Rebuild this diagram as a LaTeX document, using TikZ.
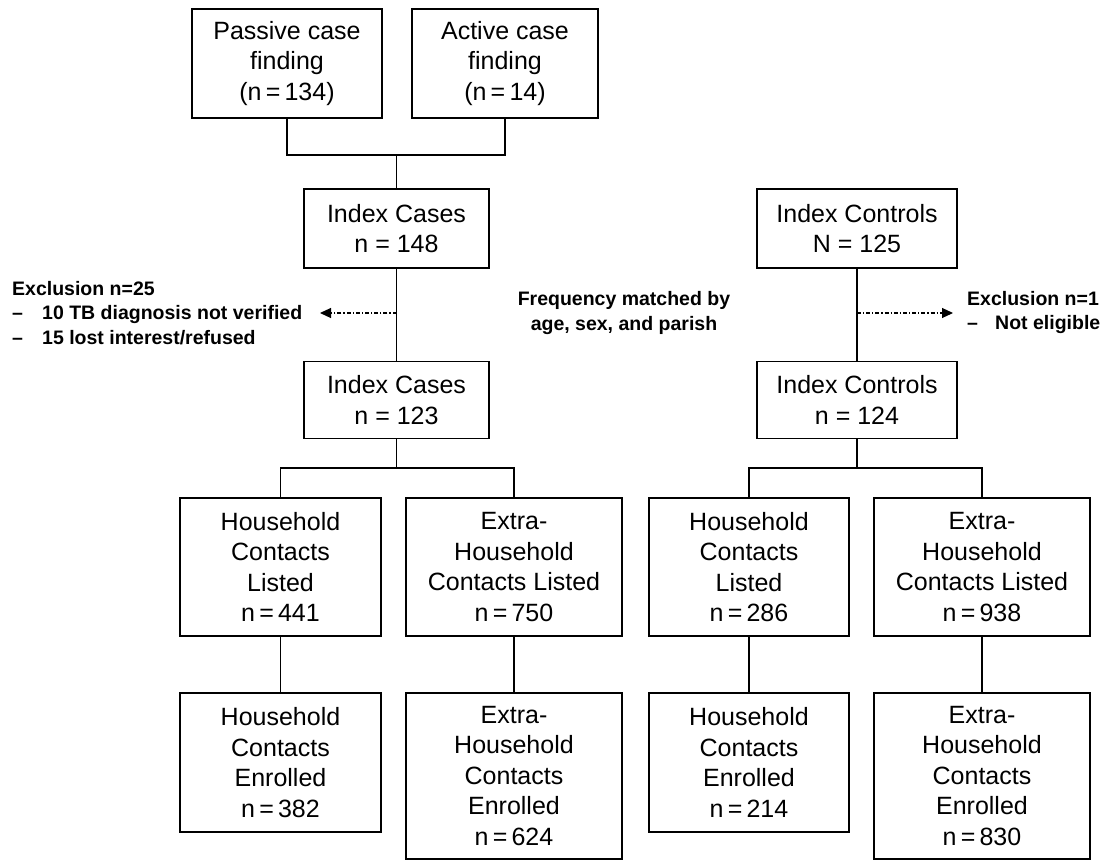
\documentclass[tikz,border=0pt]{standalone}
\usepackage{fontspec}
\setmainfont{Liberation Sans}
\usetikzlibrary{arrows.meta}
\begin{document}
\begin{tikzpicture}[x=1pt,y=-1pt,
  box/.style={draw, line width=1.6pt, inner sep=0pt, align=center, font=\fontsize{25}{30.5}\selectfont},
  conn/.style={line width=1.2pt},
  excl/.style={dash pattern=on 4pt off 2pt on 1.2pt off 2pt, line width=1.1pt, -{Triangle[length=11pt,width=10pt]}},
  note/.style={inner sep=0pt, align=left, font=\bfseries\fontsize{19.5}{24.5}\selectfont}]
\useasboundingbox (0,0) rectangle (1103,862);

% top row
\node[box, minimum width=190pt, minimum height=109pt] (passive) at (287,63.5) {Passive case\\finding\\(n\,=\,134)};
\node[box, minimum width=186pt, minimum height=109pt] (active) at (505,63.5) {Active case\\finding\\(n\,=\,14)};

% index row
\node[box, minimum width=185pt, minimum height=79pt] (cases1) at (396.5,228.5) {Index Cases\\n = 148};
\node[box, minimum width=200pt, minimum height=79pt] (controls1) at (857,228.5) {Index Controls\\N = 125};
\node[box, minimum width=185pt, minimum height=77pt] (cases2) at (396.5,400) {Index Cases\\n = 123};
\node[box, minimum width=200pt, minimum height=77pt] (controls2) at (857,400) {Index Controls\\n = 124};

% listed row
\node[box, minimum width=201pt, minimum height=138pt] (hhlA) at (280.5,567) {Household\\Contacts\\Listed\\n\,=\,441};
\node[box, minimum width=216pt, minimum height=138pt] (exlA) at (514,567) {Extra-\\Household\\Contacts Listed\\n\,=\,750};
\node[box, minimum width=200pt, minimum height=138pt] (hhlB) at (749,567) {Household\\Contacts\\Listed\\n\,=\,286};
\node[box, minimum width=216pt, minimum height=138pt] (exlB) at (982,567) {Extra-\\Household\\Contacts Listed\\n\,=\,938};

% enrolled row
\node[box, minimum width=201pt, minimum height=139pt] (hheA) at (280.5,762.5) {Household\\Contacts\\Enrolled\\n\,=\,382};
\node[box, minimum width=216pt, minimum height=166pt] (exeA) at (514,776) {Extra-\\Household\\Contacts\\Enrolled\\n\,=\,624};
\node[box, minimum width=200pt, minimum height=139pt] (hheB) at (749,762.5) {Household\\Contacts\\Enrolled\\n\,=\,214};
\node[box, minimum width=216pt, minimum height=166pt] (exeB) at (982,776) {Extra-\\Household\\Contacts\\Enrolled\\n\,=\,830};

% connectors
\coordinate (merge) at (396.5,155);
\draw[conn] (passive.south) |- (merge) -| (active.south);
\draw[conn] (merge) -- (cases1.north);
\draw[conn] (cases1.south) -- (cases2.north);
\draw[conn] (controls1.south) -- (controls2.north);

\coordinate (brA) at (396.5,468);
\draw[conn] (cases2.south) -- (brA);
\draw[conn] (hhlA.north) |- (brA) -| (exlA.north);
\coordinate (brB) at (857,468);
\draw[conn] (controls2.south) -- (brB);
\draw[conn] (hhlB.north) |- (brB) -| (exlB.north);

\draw[conn] (hhlA.south) -- (hheA.north);
\draw[conn] (exlA.south) -- (exeA.north);
\draw[conn] (hhlB.south) -- (hheB.north);
\draw[conn] (exlB.south) -- (exeB.north);

% exclusions
\coordinate (lsrc) at (396.5,313);
\coordinate (ltip) at (320,313);
\draw[excl] (lsrc) -- (ltip);
\coordinate (rsrc) at (857,313);
\coordinate (rtip) at (953,313);
\draw[excl] (rsrc) -- (rtip);

\node[note, anchor=west] (exclL) at (12,313) {Exclusion n=25\\\makebox[30pt][l]{--}10 TB diagnosis not verified\\\makebox[30pt][l]{--}15 lost interest/refused};
\node[note, anchor=west] (exclR) at (967,312.5) {Exclusion n=1\\\makebox[28pt][l]{--}Not eligible};
\node[note, align=center] (freq) at (624,313) {Frequency matched by\\age, sex, and parish};
\end{tikzpicture}
\end{document}
